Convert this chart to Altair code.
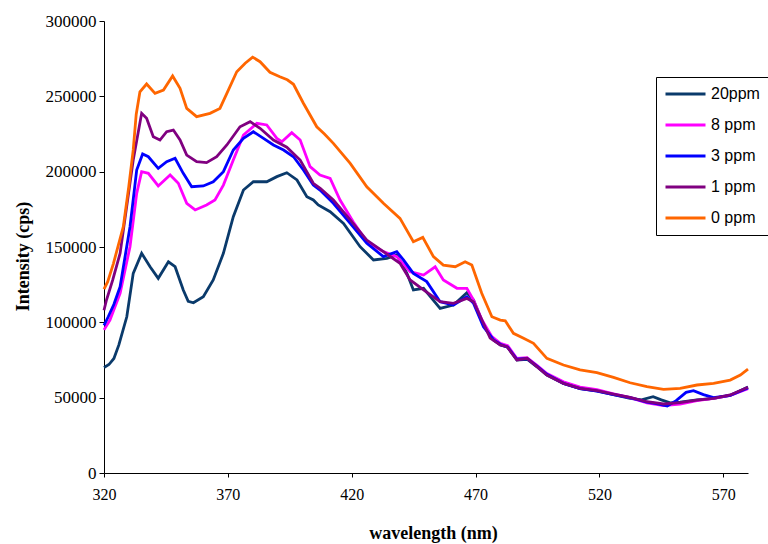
import altair as alt
import pandas as pd

# Emission spectra: wavelength (nm) and intensity (cps) per concentration
wl_20 = [320, 322, 324, 326, 329.2, 331.8, 335.2, 338.6, 341.9, 346, 348.7, 352, 354, 356.1,
         360.1, 364.1, 368.2, 372.2, 376.3, 380.3, 385.7, 389.8, 393.8, 397.9, 401.9, 404.5,
         406.5, 411.3, 416.7, 423.4, 428.8, 434.2, 438.2, 442.3, 444.9, 449, 455.7, 461.1,
         466.5, 469.2, 473.2, 477.3, 480, 483, 486.7, 490.8, 494.8, 498.8, 505.5, 512.2, 519,
         525.7, 532.4, 537, 541.7, 545, 548.6, 552.6, 559.4, 566.1, 572.8, 580]
int_20 = [70000, 72000, 76000, 85000, 103700, 132500, 145800, 136900, 129200, 140200, 136900,
          121500, 114000, 113000, 117000, 128100, 145800, 170100, 187800, 193300, 193300,
          196700, 199300, 194500, 183400, 181200, 177900, 173400, 165700, 150200, 141400,
          142500, 144700, 132500, 121500, 122600, 109300, 111500, 119700, 114800, 98200,
          88300, 85000, 83500, 75000, 75500, 70500, 65000, 59500, 56000, 54500, 52000, 49500,
          48500, 50600, 48500, 46500, 47000, 48500, 49500, 51500, 57000]

wl_8 = [320, 322.4, 326.5, 330.5, 333.2, 335.2, 337.9, 341.9, 346.7, 350, 353.4, 356.8, 361.4,
        364.8, 368.2, 372.2, 376.3, 381.7, 385.7, 389.8, 391.8, 395.8, 399.2, 403.2, 407.2,
        411.3, 415.3, 420.6, 426.1, 432.8, 438.2, 443.6, 449, 453.7, 457, 462.5, 466.5, 469.2,
        472.6, 476.6, 480, 483, 486.7, 490.8, 494.8, 498.8, 505.5, 512.2, 519, 525.7, 532.4,
        539.2, 545.9, 552.6, 559.4, 566.1, 572.8, 580]
int_8 = [95000, 101500, 119300, 150200, 185600, 200000, 198900, 190500, 197800, 192300, 179000,
         174600, 177900, 181200, 191100, 207700, 224300, 232100, 231000, 222100, 219900,
         225900, 221000, 203300, 197800, 195600, 181200, 166800, 153500, 146900, 143600,
         133600, 131400, 136900, 128100, 122600, 122600, 114800, 101500, 90500, 86000, 84500,
         76000, 76500, 71500, 66000, 60500, 57000, 55300, 52500, 50000, 46500, 44800, 45800,
         48000, 49500, 51500, 56000]

wl_3 = [320, 321.7, 324, 326.5, 330.5, 333.2, 335.6, 337.9, 341.9, 345.3, 348.7, 352, 355.4,
        360.1, 364.1, 368.2, 372.2, 376.3, 380.3, 384.4, 388.4, 392.5, 396.5, 400.5, 404.5,
        407.2, 412.6, 419.4, 426.1, 432.8, 438.2, 440.9, 444.9, 450.3, 455.7, 461.1, 466.5,
        469.2, 473.2, 477.3, 480, 483, 486.7, 490.8, 494.8, 498.8, 505.5, 512.2, 519, 525.7,
        532.4, 539.2, 543, 547.4, 551, 555, 558, 562, 566.1, 572.8, 580]
int_3 = [98000, 103700, 112000, 123700, 163500, 201100, 211700, 209900, 202200, 206600, 208900,
         198900, 190000, 190500, 193300, 200000, 214400, 222100, 226500, 222100, 217700,
         214400, 209900, 201100, 191100, 187800, 179000, 165700, 152500, 143600, 146900,
         141400, 132500, 127000, 113700, 111500, 117000, 112600, 97100, 88300, 85500, 83500,
         75500, 76000, 71000, 65500, 59500, 56000, 54300, 52000, 50000, 47000, 46000, 44500,
         48000, 53500, 54600, 52000, 50000, 51500, 56500]

wl_1 = [320, 321, 323.5, 326.5, 329, 331.8, 335.2, 337.2, 339.9, 342.6, 345.3, 348, 350.7,
        353.4, 357.4, 361.4, 365.5, 369.6, 374.9, 379, 383, 388.4, 393.8, 399.2, 404.5, 407.3,
        412.6, 419.4, 426.1, 432.8, 439.5, 443.6, 449, 455.7, 461.1, 466.5, 469.2, 472.6,
        475.9, 480, 482.7, 486.7, 490.8, 494.8, 498.8, 505.5, 512.2, 519, 525.7, 532.4, 539.2,
        545.9, 552.6, 559.4, 566.1, 572.8, 580]
int_1 = [108000, 114800, 128000, 145800, 175000, 207700, 238700, 235400, 223200, 221000, 226500,
         227600, 221000, 211000, 206600, 206000, 210000, 217700, 229800, 233200, 228800,
         221000, 216200, 207700, 192300, 189000, 181200, 168000, 154600, 146900, 139200,
         128100, 121500, 113700, 112600, 115900, 113700, 101500, 89500, 85000, 83800, 75000,
         76100, 70600, 65000, 59500, 56200, 54600, 52400, 50200, 47300, 45800, 46700, 48400,
         49600, 51800, 56900]

wl_0 = [320, 321.5, 323.8, 327.8, 330, 331.8, 333, 334.5, 337.2, 340.6, 344, 347.7, 350.7,
        353.4, 357.4, 362.8, 366.8, 369.6, 373.6, 377, 380, 383, 387, 391, 394, 396.5, 400.5,
        405.9, 409, 412.6, 419.4, 426.1, 432.8, 439.5, 444.9, 448.7, 453, 457, 461.8, 465.8,
        468.5, 472.5, 476.6, 480, 482, 485.3, 489.4, 493.4, 498.8, 505.5, 512.2, 519, 525.7,
        532.4, 539.2, 545.9, 552.6, 559.4, 566.1, 572.8, 576.9, 580]
int_0 = [122000, 127000, 139000, 163500, 190000, 214400, 238000, 253000, 258200, 252000, 254200,
         263500, 255300, 242000, 236500, 238700, 242000, 252000, 266300, 272000, 276000,
         273000, 266000, 263000, 261000, 258000, 245400, 229800, 225000, 218800, 205500,
         190000, 179000, 169000, 153500, 156400, 143600, 138000, 136900, 140200, 138000,
         119300, 103700, 101500, 101000, 92700, 89400, 86100, 76100, 71700, 68400, 66600,
         63500, 59900, 57300, 55500, 56200, 58400, 59500, 61700, 65000, 69000]

series_names = ["20ppm", "8 ppm", "3 ppm", "1 ppm", "0 ppm"]
series_colors = ["#0A3A6B", "#FF00FF", "#0000FF", "#800080", "#FF6600"]
series_data = [(wl_20, int_20), (wl_8, int_8), (wl_3, int_3), (wl_1, int_1), (wl_0, int_0)]

frames = []
for name, (wl, vals) in zip(series_names, series_data):
    frames.append(pd.DataFrame({"wavelength": wl, "intensity": vals, "sample": name}))
df = pd.concat(frames, ignore_index=True)

x_ticks = [320, 370, 420, 470, 520, 570]
y_ticks = [0, 50000, 100000, 150000, 200000, 250000, 300000]

serif = "Liberation Serif"
sans = "Liberation Sans"

color_scale = alt.Scale(domain=series_names, range=series_colors)

x_enc = alt.X(
    "wavelength:Q",
    scale=alt.Scale(domain=[320, 580], nice=False, zero=False),
    axis=alt.Axis(
        values=x_ticks, format="d", grid=False, domainColor="#000000", tickColor="#000000",
        tickSize=4, labelFont=serif, labelFontSize=16, labelColor="#000000", labelPadding=9,
        title="wavelength (nm)", titleFont=serif, titleFontSize=18, titleFontWeight="bold",
        titleColor="#000000", titleX=329, titleY=65, titleBaseline="alphabetic",
        labelFlush=False,
    ),
)
y_enc = alt.Y(
    "intensity:Q",
    scale=alt.Scale(domain=[0, 300000], nice=False),
    axis=alt.Axis(
        values=y_ticks, format="d", grid=False, domainColor="#000000", tickColor="#000000",
        tickSize=5, labelFont=serif, labelFontSize=17, labelColor="#000000", labelPadding=3,
        title="Intensity (cps)", titleFont=serif, titleFontSize=18, titleFontWeight="bold",
        titleColor="#000000", titleX=-81, titleY=235, titleAngle=-90, titleAlign="center",
        titleBaseline="middle",
    ),
)

layers = []
for i, name in enumerate(series_names):
    legend = None
    if i == 0:
        legend = alt.Legend(
            title=None, orient="none", legendX=552, legendY=56,
            symbolType="stroke", symbolSize=1600, symbolStrokeWidth=3,
            clipHeight=18, rowPadding=13, labelOffset=4,
            labelFont=sans, labelFontSize=16, labelColor="#000000",
            strokeColor="#000000", fillColor="#FFFFFF", padding=8, cornerRadius=0,
        )
    layers.append(
        alt.Chart(df)
        .transform_filter(alt.datum.sample == name)
        .mark_line(strokeWidth=2.8, interpolate="linear")
        .encode(
            x=x_enc,
            y=y_enc,
            color=alt.Color("sample:N", scale=color_scale, legend=legend),
        )
    )

chart = (
    alt.layer(*layers)
    .properties(
        width=644, height=452,
        autosize=alt.AutoSizeParams(type="none"),
        padding={"left": 104, "top": 21, "right": 20, "bottom": 71},
        background="#FFFFFF",
    )
    .configure_view(stroke=None)
)

chart.save("out.html", embed_options={"renderer": "svg", "actions": False})
